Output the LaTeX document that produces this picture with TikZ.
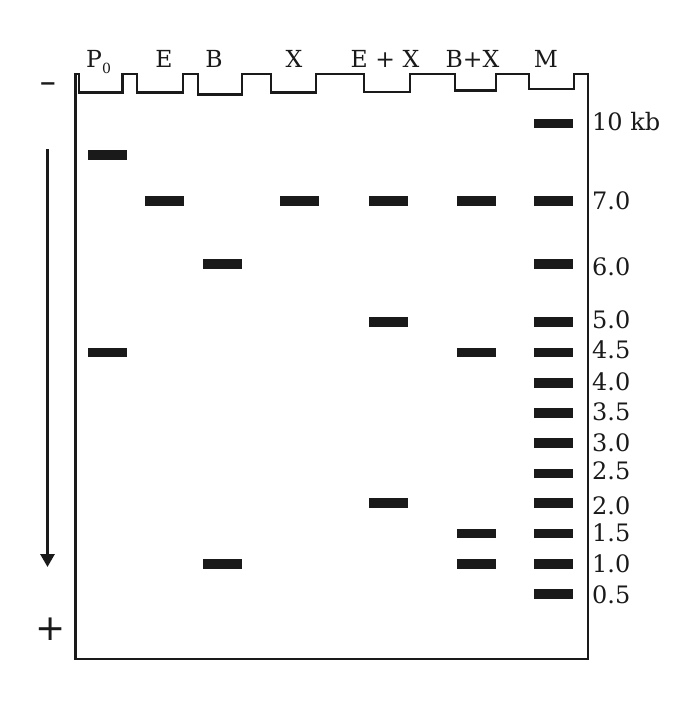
\documentclass[tikz,border=0pt]{standalone}
\usepackage{fontspec}
\setmainfont{DejaVu Serif}
\newfontfamily\signfont{DejaVu Sans}
\newfontfamily\signboldfont{DejaVu Sans Bold}
\usetikzlibrary{arrows.meta}
\definecolor{ink}{HTML}{1A1A1A}
\tikzset{
  bandbox/.style={draw=none,fill=ink,rectangle,inner sep=0pt,minimum width=39pt,minimum height=9.5pt},
  sizelab/.style={anchor=west,inner sep=0pt,text=ink,font=\fontsize{24}{24}\selectfont},
  lanelab/.style={anchor=base,inner sep=0pt,text=ink,font=\fontsize{23.5}{23.5}\selectfont},
  gelline/.style={draw=ink,line width=2.9pt,line join=miter},
}
\begin{document}
\begin{tikzpicture}[x=1pt,y=-1pt]
\useasboundingbox (0,0) rectangle (682,712);
% gel outline with wells
\draw[gelline] (588,659) -- (75.5,659) -- (75.5,74) -- (79,74) -- (79,92.5) -- (122.5,92.5) -- (122.5,74)
  -- (137,74) -- (137,92.5) -- (183,92.5) -- (183,74) -- (198,74) -- (198,94.5) -- (242,94.5) -- (242,74)
  -- (271,74) -- (271,92.5) -- (316,92.5) -- (316,74) -- (364,74) -- (364,92) -- (410,92) -- (410,74)
  -- (455,74) -- (455,90.5) -- (496,90.5) -- (496,74) -- (529,74) -- (529,89) -- (574,89) -- (574,74)
  -- (588,74) -- cycle;
% lane labels
\node[lanelab,anchor=base west] (lP) at (86,67) {P\raisebox{-6pt}{\fontsize{14}{14}\selectfont 0}};
\node[lanelab] (lE) at (164,67) {E};
\node[lanelab] (lB) at (214,67) {B};
\node[lanelab] (lX) at (294,67) {X};
\node[lanelab] (lEX) at (385,67) {E + X};
\node[lanelab] (lBX) at (472.5,67) {B+X};
\node[lanelab] (lM) at (546,67) {M};
% electrodes
\node[inner sep=0pt,text=ink,font=\signboldfont\fontsize{21}{21}\selectfont] (minus) at (48,87) {−};
\node[inner sep=0pt,text=ink,font=\signfont\fontsize{36}{36}\selectfont] (plus) at (51,629) {+};
\coordinate (arrS) at (47.5,149);
\coordinate (arrE) at (47.5,567);
\draw[draw=ink,line width=2.9pt,-{Triangle[width=14pt,length=13pt]}] (arrS) -- (arrE);
% P0 lane
\node[bandbox] (p1) at (107,155) {};
\node[bandbox] (p2) at (107,352.5) {};
% E lane
\node[bandbox] (e1) at (164,201) {};
% B lane
\node[bandbox] (b1) at (222,264) {};
\node[bandbox] (b2) at (222,564) {};
% X lane
\node[bandbox] (x1) at (299,201) {};
% E+X lane
\node[bandbox] (ex1) at (388.5,201) {};
\node[bandbox] (ex2) at (388.5,322) {};
\node[bandbox] (ex3) at (388.5,503) {};
% B+X lane
\node[bandbox] (bx1) at (476.5,201) {};
\node[bandbox] (bx2) at (476.5,352.5) {};
\node[bandbox] (bx3) at (476.5,533.5) {};
\node[bandbox] (bx4) at (476.5,564) {};
% marker lane
\foreach \nm/\yy in {m10/123.5,m7/201,m6/264,m5/322,m45/352.5,m40/383,m35/413,m30/443,m25/473.5,m20/503,m15/533.5,m10b/564,m05/594}
  \node[bandbox] (\nm) at (553.5,\yy) {};
% size labels
\node[sizelab] (s10) at (592,122) {10 kb};
\node[sizelab] (s7) at (592,201) {7.0};
\node[sizelab] (s6) at (592,267) {6.0};
\node[sizelab] (s5) at (592,320) {5.0};
\node[sizelab] (s45) at (592,349.5) {4.5};
\node[sizelab] (s40) at (592,381.5) {4.0};
\node[sizelab] (s35) at (592,411.5) {3.5};
\node[sizelab] (s30) at (592,442.5) {3.0};
\node[sizelab] (s25) at (592,470.5) {2.5};
\node[sizelab] (s20) at (592,506) {2.0};
\node[sizelab] (s15) at (592,533) {1.5};
\node[sizelab] (s1) at (592,564) {1.0};
\node[sizelab] (s05) at (592,595) {0.5};
\end{tikzpicture}
\end{document}
